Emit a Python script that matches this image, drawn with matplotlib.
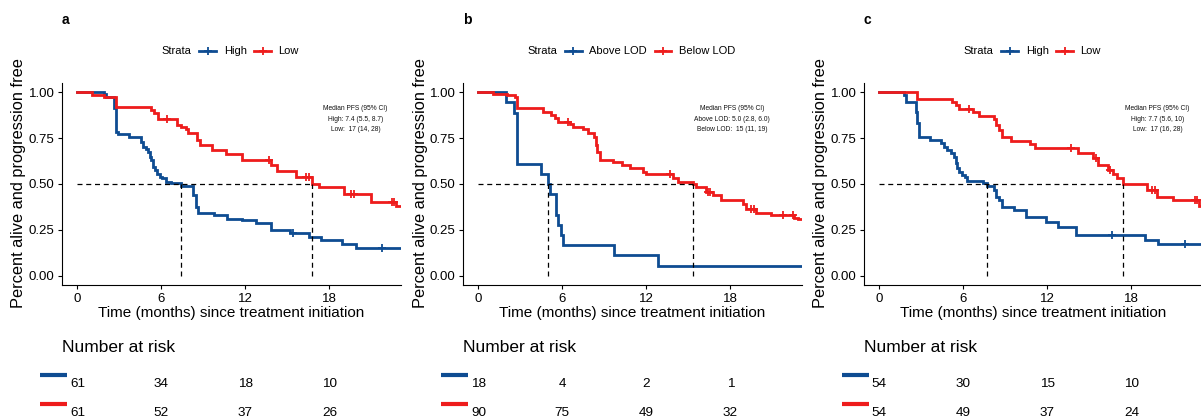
import numpy as np
import matplotlib
matplotlib.use("Agg")
import matplotlib.pyplot as plt
from matplotlib.lines import Line2D
from matplotlib.offsetbox import TextArea, DrawingArea, HPacker, AnchoredOffsetbox
import matplotlib.transforms as mtransforms

plt.rcParams['font.family'] = ['Liberation Sans', 'DejaVu Sans']

BLUE = '#0E4C92'
RED = '#EE1C1C'

# ---------------- data ----------------
panel_letters = ['a', 'b', 'c']
strata_labels = [['High', 'Low'], ['Above LOD', 'Below LOD'], ['High', 'Low']]
x_ticks = [0, 6, 12, 18]
y_ticks = [0.0, 0.25, 0.5, 0.75, 1.0]
y_tick_labels = ['0.00', '0.25', '0.50', '0.75', '1.00']
risk_times = [0, 6, 12, 18]

# panel a
a_high_t = [1.90, 2.02, 2.62, 2.74, 2.90, 3.69, 4.52, 4.71, 4.88, 5.05, 5.19, 5.29, 5.43, 5.55,
            5.71, 5.90, 6.07, 6.31, 6.67, 7.38, 8.29, 8.45, 8.62, 9.76, 10.71, 11.79, 12.74,
            13.81, 15.20, 16.55, 17.38, 18.93, 19.88, 24.0]
a_high_s = [0.991, 0.973, 0.913, 0.785, 0.772, 0.754, 0.730, 0.703, 0.689, 0.676, 0.648, 0.630,
            0.590, 0.576, 0.557, 0.539, 0.530, 0.512, 0.506, 0.488, 0.439, 0.375, 0.344, 0.330,
            0.311, 0.302, 0.288, 0.251, 0.233, 0.211, 0.193, 0.175, 0.153, 0.153]
a_high_cens = [15.40, 21.79]
a_low_t = [1.07, 1.90, 2.74, 5.24, 5.48, 5.76, 7.14, 7.38, 7.74, 7.93, 8.57, 8.76, 9.64, 10.60,
           11.79, 13.86, 14.29, 15.60, 16.79, 17.26, 19.05, 20.95, 22.74, 24.0]
a_low_s = [0.985, 0.973, 0.918, 0.903, 0.885, 0.852, 0.821, 0.812, 0.798, 0.780, 0.740, 0.712,
           0.685, 0.663, 0.630, 0.603, 0.572, 0.539, 0.499, 0.481, 0.448, 0.403, 0.379, 0.379]
a_low_cens = [6.38, 13.69, 16.31, 16.55, 19.52, 19.76, 22.50, 22.62]

# panel b
b_above_t = [1.95, 2.57, 2.78, 4.44, 4.96, 5.11, 5.53, 5.70, 5.89, 6.06, 9.67, 12.83, 24.0]
b_above_s = [0.944, 0.889, 0.611, 0.556, 0.500, 0.444, 0.333, 0.278, 0.222, 0.167, 0.111, 0.056, 0.056]
b_above_cens = []
b_below_t = [1.07, 2.02, 2.61, 2.78, 4.63, 5.15, 5.46, 5.70, 6.53, 6.77, 7.48, 7.84, 8.27, 8.38,
             8.48, 8.67, 9.62, 10.29, 10.81, 11.76, 11.95, 13.90, 14.25, 15.32, 15.56, 16.27,
             16.75, 17.34, 18.88, 19.12, 19.83, 20.90, 22.57, 22.80, 24.0]
b_below_s = [0.991, 0.985, 0.976, 0.913, 0.894, 0.876, 0.858, 0.840, 0.827, 0.812, 0.798, 0.776,
             0.758, 0.712, 0.676, 0.630, 0.621, 0.603, 0.585, 0.566, 0.552, 0.530, 0.512, 0.499,
             0.485, 0.457, 0.439, 0.412, 0.393, 0.366, 0.342, 0.330, 0.317, 0.311, 0.311]
b_below_cens = [6.41, 13.66, 16.39, 16.56, 19.48, 19.71, 21.73, 22.45]

# panel c
c_high_t = [1.79, 1.87, 2.58, 2.70, 2.82, 3.59, 4.38, 4.62, 4.86, 5.10, 5.33, 5.45, 5.57, 5.69,
            5.93, 6.12, 6.29, 7.37, 7.68, 8.21, 8.33, 8.56, 8.76, 9.64, 10.48, 11.91, 12.75,
            14.07, 18.97, 19.93, 24.0]
c_high_s = [0.985, 0.944, 0.894, 0.831, 0.758, 0.740, 0.721, 0.703, 0.685, 0.667, 0.645, 0.612,
            0.585, 0.566, 0.548, 0.536, 0.517, 0.503, 0.488, 0.466, 0.430, 0.412, 0.375, 0.357,
            0.321, 0.293, 0.266, 0.220, 0.197, 0.175, 0.175]
c_high_cens = [16.58, 21.84]
c_low_t = [2.70, 5.22, 5.45, 5.69, 6.65, 7.13, 8.16, 8.33, 8.52, 8.76, 9.40, 10.77, 11.12, 14.19,
           15.26, 15.62, 16.34, 16.70, 16.94, 17.42, 19.09, 19.81, 21.00, 22.80, 24.0]
c_low_s = [0.964, 0.949, 0.931, 0.907, 0.891, 0.872, 0.852, 0.821, 0.794, 0.758, 0.736, 0.716,
           0.698, 0.667, 0.639, 0.603, 0.576, 0.554, 0.534, 0.499, 0.466, 0.430, 0.412, 0.379, 0.379]
c_low_cens = [6.41, 13.71, 15.50, 16.46, 19.45, 19.69, 22.56, 22.68]

curves = [
    [(a_high_t, a_high_s, a_high_cens), (a_low_t, a_low_s, a_low_cens)],
    [(b_above_t, b_above_s, b_above_cens), (b_below_t, b_below_s, b_below_cens)],
    [(c_high_t, c_high_s, c_high_cens), (c_low_t, c_low_s, c_low_cens)],
]

median_text = [
    ["Median PFS (95% CI)", "High: 7.4 (5.5, 8.7)", "Low:  17 (14, 28)"],
    ["Median PFS (95% CI)", "Above LOD: 5.0 (2.8, 6.0)", "Below LOD:  15 (11, 19)"],
    ["Median PFS (95% CI)", "High: 7.7 (5.6, 10)", "Low:  17 (16, 28)"],
]
annot_x = [19.86, 18.1, 19.86]

risk_a = [[61, 34, 18, 10], [61, 52, 37, 26]]
risk_b = [[18, 4, 2, 1], [90, 75, 49, 32]]
risk_c = [[54, 30, 15, 10], [54, 49, 37, 24]]
risk = [risk_a, risk_b, risk_c]

colors = [BLUE, RED]

# ---------------- layout (pixels) ----------------
W, H = 1201, 418
fig = plt.figure(figsize=(W / 100, H / 100), dpi=100)


def fx(px):
    return px / W


def fy(py):
    return 1 - py / H


axes_left = [62, 463, 864]
ax_w = 338.8
ax_top, ax_bot = 83, 285


def step_val(t, s, x):
    t = np.asarray(t)
    i = np.searchsorted(t, x, side='right') - 1
    return 1.0 if i < 0 else s[i]


for p in range(3):
    L = axes_left[p]
    ax = fig.add_axes([fx(L), fy(ax_bot), ax_w / W, (ax_bot - ax_top) / H])
    ax.set_xlim(-1.1, 23.1)
    ax.set_ylim(-0.05, 1.05)
    for sp in ['top', 'right']:
        ax.spines[sp].set_visible(False)
    for sp in ['left', 'bottom']:
        ax.spines[sp].set_linewidth(0.8)
    ax.set_xticks(x_ticks)
    ax.set_yticks(y_ticks)
    ax.set_yticklabels(y_tick_labels)
    ax.tick_params(direction='out', length=3, width=0.8, labelsize=9.5, pad=2.5, colors='black')

    medians = []
    for k, (t, s, cens) in enumerate(curves[p]):
        tt = np.r_[0, t]
        ss = np.r_[1.0, s]
        ax.step(tt, ss, where='post', color=colors[k], lw=2.0, zorder=3 + k, solid_joinstyle='miter')
        if cens:
            cy = [step_val(t, s, c) for c in cens]
            ax.plot(cens, cy, ls='none', marker='+', ms=6, mew=1.3, color=colors[k], zorder=3 + k)
        sarr = np.asarray(s)
        idx = np.argmax(sarr <= 0.5)
        medians.append(t[idx])

    dash = dict(color='black', lw=0.9, dashes=(4, 3), zorder=6)
    ax.plot([0, max(medians)], [0.5, 0.5], **dash)
    for m in medians:
        ax.plot([m, m], [0, 0.5], **dash)

    ann_y = [0.913, 0.852, 0.795]
    for line, yv in zip(median_text[p], ann_y):
        ax.text(annot_x[p], yv, line, fontsize=4.8, ha='center', va='center', color='#111111')

    ax.set_xlabel('Time (months) since treatment initiation', fontsize=11, labelpad=1)
    fig.text(fx(L - 43), fy((ax_top + ax_bot) / 2 - 1), 'Percent alive and progression free',
             rotation=90, fontsize=11.8, ha='center', va='center')

    # panel letter
    fig.text(fx(L), fy(24), panel_letters[p], fontsize=10, fontweight='bold', ha='left', va='baseline')

    # legend
    items = [TextArea('Strata', textprops=dict(fontsize=8))]
    for lab, col in zip(strata_labels[p], colors):
        da = DrawingArea(12, 8, 0, 0)
        da.add_artist(Line2D([0, 12], [4, 4], color=col, lw=2))
        da.add_artist(Line2D([6], [4], marker='+', ms=6, mew=1.3, color=col))
        items.append(da)
        items.append(TextArea(lab, textprops=dict(fontsize=8)))
    box = HPacker(children=items, align='center', pad=0, sep=5.5)
    anch = AnchoredOffsetbox(loc='center', child=box, frameon=False, pad=0, borderpad=0,
                             bbox_to_anchor=(fx(L + ax_w / 2 - 1), fy(51)),
                             bbox_transform=fig.transFigure)
    fig.add_artist(anch)

    # risk table
    fig.text(fx(L), fy(352), 'Number at risk', fontsize=12.5, ha='left', va='baseline')
    trans = mtransforms.blended_transform_factory(ax.transData, fig.transFigure)
    row_base = [387, 416]
    bar_y = [375, 404]
    for k in range(2):
        for tx, n in zip(risk_times, risk[p][k]):
            fig.text(tx, fy(row_base[k]), str(n), transform=trans, fontsize=9.7,
                     ha='center', va='baseline')
        fig.add_artist(Line2D([fx(L - 22), fx(L + 5)], [fy(bar_y[k]), fy(bar_y[k])],
                              color=colors[k], lw=3, solid_capstyle='butt',
                              transform=fig.transFigure))

fig.savefig('out.png', dpi=100)
